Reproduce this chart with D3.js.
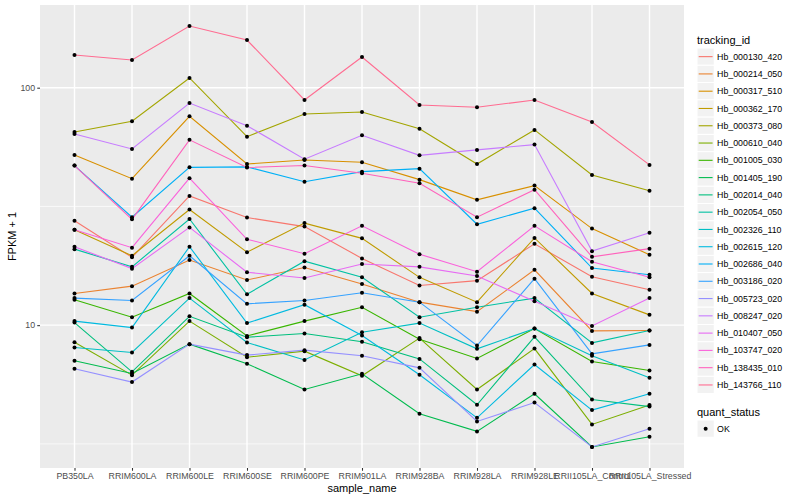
<!DOCTYPE html>
<html>
<head>
<meta charset="utf-8">
<script src="https://cdn.jsdelivr.net/npm/d3@7"></script>
<style>
body { margin: 0; background: #fff; }
text { font-family: "Liberation Sans", Arial, sans-serif; }
</style>
</head>
<body>
<div id="chart"></div>
<script>
// categories on the x axis
var samples = ["PB350LA", "RRIM600LA", "RRIM600LE", "RRIM600SE", "RRIM600PE", "RRIM901LA",
               "RRIM928BA", "RRIM928LA", "RRIM928LE", "RRII105LA_Control", "RRII105LA_Stressed"];

// FPKM + 1 per gene, in sample order
var hb_000130_420 = [27.5, 19.3, 35.0, 28.4, 26.0, 19.1, 14.7, 15.4, 22.0, 16.0, 14.1];
var hb_000214_050 = [13.6, 14.6, 18.8, 15.5, 17.5, 14.9, 12.5, 11.4, 17.1, 9.46, 9.49];
var hb_000317_510 = [52.1, 41.4, 75.8, 47.7, 49.6, 48.5, 41.0, 33.7, 38.7, 25.5, 19.8];
var hb_000362_170 = [25.2, 19.6, 30.7, 20.3, 26.9, 23.2, 15.9, 12.5, 23.3, 13.6, 11.05];
var hb_000373_080 = [65.1, 72.2, 109.9, 62.2, 77.5, 79.0, 67.2, 47.7, 66.4, 42.9, 36.8];
var hb_000610_040 = [8.48, 6.16, 10.4, 7.33, 7.77, 6.12, 8.82, 5.36, 7.97, 3.82, 4.61];
var hb_001005_030 = [12.8, 10.8, 13.6, 9.01, 10.4, 11.9, 8.73, 7.24, 9.67, 7.03, 6.44];
var hb_001405_190 = [7.08, 6.26, 8.32, 6.88, 5.36, 6.24, 4.24, 3.57, 5.14, 3.07, 3.39];
var hb_002014_040 = [10.25, 6.36, 10.9, 8.90, 9.22, 8.51, 7.21, 4.62, 8.93, 4.86, 4.54];
var hb_002054_050 = [20.9, 17.6, 28.0, 13.5, 18.6, 15.9, 10.8, 11.9, 13.0, 8.42, 9.49];
var hb_002326_110 = [8.05, 7.67, 13.0, 8.45, 7.14, 9.34, 10.2, 7.95, 9.67, 7.43, 6.00];
var hb_002615_120 = [10.4, 9.77, 21.4, 10.2, 12.2, 9.04, 6.18, 4.07, 6.83, 4.39, 5.14];
var hb_002686_040 = [47.0, 28.5, 46.2, 46.4, 40.2, 44.3, 45.6, 26.6, 31.1, 17.4, 16.3];
var hb_003186_020 = [13.0, 12.7, 19.6, 12.3, 12.7, 13.7, 12.5, 8.21, 15.7, 7.57, 8.26];
var hb_005723_020 = [6.55, 5.76, 8.32, 7.48, 7.85, 7.43, 6.61, 3.93, 4.72, 3.07, 3.66];
var hb_008247_020 = [63.8, 55.2, 86.2, 69.2, 50.0, 63.0, 51.9, 54.7, 57.6, 20.5, 24.5];
var hb_010407_050 = [21.4, 17.3, 25.8, 16.7, 15.8, 18.1, 17.6, 16.1, 12.6, 9.93, 13.0];
var hb_103747_020 = [25.2, 21.2, 41.6, 23.0, 20.0, 26.2, 19.9, 16.8, 26.2, 18.5, 15.9];
var hb_138435_010 = [47.0, 27.9, 60.3, 46.1, 47.0, 43.6, 39.6, 28.5, 37.2, 19.4, 21.0];
var hb_143766_110 = [137.3, 130.8, 181.8, 158.8, 88.8, 134.7, 84.6, 82.7, 88.8, 71.7, 47.3];

var trackingIds = ["Hb_000130_420", "Hb_000214_050", "Hb_000317_510", "Hb_000362_170", "Hb_000373_080",
                   "Hb_000610_040", "Hb_001005_030", "Hb_001405_190", "Hb_002014_040", "Hb_002054_050",
                   "Hb_002326_110", "Hb_002615_120", "Hb_002686_040", "Hb_003186_020", "Hb_005723_020",
                   "Hb_008247_020", "Hb_010407_050", "Hb_103747_020", "Hb_138435_010", "Hb_143766_110"];
var seriesValues = [hb_000130_420, hb_000214_050, hb_000317_510, hb_000362_170, hb_000373_080,
                    hb_000610_040, hb_001005_030, hb_001405_190, hb_002014_040, hb_002054_050,
                    hb_002326_110, hb_002615_120, hb_002686_040, hb_003186_020, hb_005723_020,
                    hb_008247_020, hb_010407_050, hb_103747_020, hb_138435_010, hb_143766_110];

// y axis ticks
var yTicks = [10, 100];
var yTickLabels = ["10", "100"];
var yMinorTicks = [Math.sqrt(10), Math.sqrt(1000)];

var quantStatus = ["OK"];

// ggplot default hue palette for 20 levels
var palette = ["#F8766D", "#EA8331", "#D89000", "#C09B00", "#A3A500", "#7CAE00", "#39B600", "#00BB4E",
               "#00BF7D", "#00C1A3", "#00BFC4", "#00BAE0", "#00B0F6", "#35A2FF", "#9590FF", "#C77CFF",
               "#E76BF3", "#FA62DB", "#FF62BC", "#FF6C91"];

var width = 800, height = 500;
var panel = { left: 40, right: 684, top: 5, bottom: 468 };

var svg = d3.select("#chart").append("svg")
    .attr("width", width)
    .attr("height", height);

var x = d3.scalePoint()
    .domain(samples)
    .range([panel.left, panel.right])
    .padding(0.6);

// log range with 5% expansion like ggplot
var allVals = d3.merge(seriesValues);
var lmin = Math.log10(d3.min(allVals)), lmax = Math.log10(d3.max(allVals));
var pad = (lmax - lmin) * 0.05;
var y = d3.scaleLog()
    .domain([Math.pow(10, lmin - pad), Math.pow(10, lmax + pad)])
    .range([panel.bottom, panel.top]);

// panel background
svg.append("rect")
    .attr("x", panel.left).attr("y", panel.top)
    .attr("width", panel.right - panel.left)
    .attr("height", panel.bottom - panel.top)
    .attr("fill", "#EBEBEB");

var grid = svg.append("g");
grid.selectAll(".minor").data(yMinorTicks).enter().append("line")
    .attr("x1", panel.left).attr("x2", panel.right)
    .attr("y1", function(d) { return y(d); })
    .attr("y2", function(d) { return y(d); })
    .attr("stroke", "#fff").attr("stroke-width", 0.7);
grid.selectAll(".major").data(yTicks).enter().append("line")
    .attr("x1", panel.left).attr("x2", panel.right)
    .attr("y1", function(d) { return y(d); })
    .attr("y2", function(d) { return y(d); })
    .attr("stroke", "#fff").attr("stroke-width", 1.4);
grid.selectAll(".xmajor").data(samples).enter().append("line")
    .attr("y1", panel.top).attr("y2", panel.bottom)
    .attr("x1", function(d) { return x(d); })
    .attr("x2", function(d) { return x(d); })
    .attr("stroke", "#fff").attr("stroke-width", 1.4);

// lines
var line = d3.line()
    .x(function(d, i) { return x(samples[i]); })
    .y(function(d) { return y(d); });

svg.append("g")
    .selectAll("path")
    .data(seriesValues)
    .enter()
        .append("path")
        .attr("d", line)
        .attr("fill", "none")
        .attr("stroke", function(d, i) { return palette[i]; })
        .attr("stroke-width", 1.1);

// points
var pts = svg.append("g");
seriesValues.forEach(function(vals) {
    pts.selectAll(null)
        .data(vals)
        .enter()
            .append("circle")
            .attr("cx", function(d, i) { return x(samples[i]); })
            .attr("cy", function(d) { return y(d); })
            .attr("r", 2)
            .attr("fill", "#000");
});

// axes
var yAxis = svg.append("g")
    .attr("transform", "translate(" + panel.left + ",0)")
    .call(d3.axisLeft(y).tickValues(yTicks)
        .tickFormat(function(d, i) { return yTickLabels[i]; })
        .tickSize(2.75).tickPadding(2.2));
var xAxis = svg.append("g")
    .attr("transform", "translate(0," + panel.bottom + ")")
    .call(d3.axisBottom(x).tickSize(2.75).tickPadding(2.2));

[xAxis, yAxis].forEach(function(ax) {
    ax.select(".domain").remove();
    ax.selectAll(".tick line").attr("stroke", "#333333").attr("stroke-width", 1.07);
    ax.selectAll(".tick text")
        .attr("fill", "#4D4D4D")
        .style("font-size", "8.8px")
        .style("font-family", "'Liberation Sans', Arial, sans-serif");
});

// axis titles
svg.append("text")
    .attr("x", (panel.left + panel.right) / 2)
    .attr("y", 492)
    .attr("text-anchor", "middle")
    .style("font-size", "11px")
    .text("sample_name");

svg.append("text")
    .attr("transform", "translate(16," + ((panel.top + panel.bottom) / 2) + ") rotate(-90)")
    .attr("text-anchor", "middle")
    .style("font-size", "11px")
    .text("FPKM + 1");

// legend: tracking_id
var legX = 697, keySize = 17.28;
var leg = svg.append("g");
leg.append("text")
    .attr("x", legX).attr("y", 44)
    .style("font-size", "11px")
    .text("tracking_id");

var items = leg.selectAll(".item")
    .data(trackingIds)
    .enter()
        .append("g")
        .attr("transform", function(d, i) { return "translate(" + legX + "," + (48 + i * keySize) + ")"; });
items.append("rect")
    .attr("width", keySize).attr("height", keySize)
    .attr("fill", "#F2F2F2").attr("stroke", "#fff").attr("stroke-width", 1);
items.append("line")
    .attr("x1", 1.7).attr("x2", keySize - 1.7)
    .attr("y1", keySize / 2).attr("y2", keySize / 2)
    .attr("stroke", function(d, i) { return palette[i]; })
    .attr("stroke-width", 1.1);
items.append("text")
    .attr("x", keySize + 2.8).attr("y", keySize / 2 + 3.1)
    .style("font-size", "8.8px")
    .text(function(d) { return d; });

// legend: quant_status
var qY = 416;
leg.append("text")
    .attr("x", legX).attr("y", qY)
    .style("font-size", "11px")
    .text("quant_status");
var qItems = leg.selectAll(".q")
    .data(quantStatus)
    .enter()
        .append("g")
        .attr("transform", function(d, i) { return "translate(" + legX + "," + (qY + 4 + i * keySize) + ")"; });
qItems.append("rect")
    .attr("width", keySize).attr("height", keySize)
    .attr("fill", "#F2F2F2").attr("stroke", "#fff");
qItems.append("circle")
    .attr("cx", keySize / 2).attr("cy", keySize / 2).attr("r", 2)
    .attr("fill", "#000");
qItems.append("text")
    .attr("x", keySize + 2.8).attr("y", keySize / 2 + 3.1)
    .style("font-size", "8.8px")
    .text(function(d) { return d; });
</script>
</body>
</html>
